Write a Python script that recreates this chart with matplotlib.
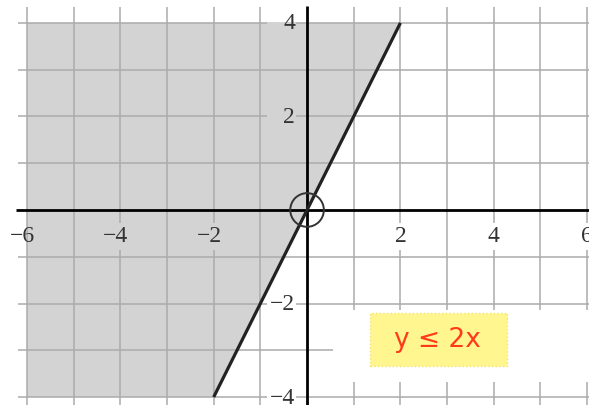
import matplotlib
matplotlib.use("Agg")
import matplotlib.pyplot as plt
from matplotlib.patches import Polygon, Rectangle, Circle

# ---- data ----
x_ticks = [-6, -4, -2, 2, 4, 6]
y_ticks = [-4, -2, 2, 4]
grid_x = [-6, -5, -4, -3, -2, -1, 0, 1, 2, 3, 4, 5, 6]
grid_y = [-4, -3, -2, -1, 0, 1, 2, 3, 4]
line_x = [-2, 2]
line_y = [-4, 4]
shade_x = [-6, 2, -2, -6]
shade_y = [4, 4, -4, -4]
label_text = "y \u2264 2x"

SHADE = "#d3d3d3"
GRID = "#ababab"

fig = plt.figure(figsize=(5.89, 4.05), dpi=100)
ax = fig.add_axes([0, 0, 1, 1])
xmin, xmax = -6.578, 6.04
ymin, ymax = -4.17, 4.49
ax.set_xlim(xmin, xmax)
ax.set_ylim(ymin, ymax)
ax.axis("off")

# shaded region
ax.add_patch(Polygon(list(zip(shade_x, shade_y)), closed=True,
                     facecolor=SHADE, edgecolor="none", zorder=1))

# grid
for gx in grid_x:
    if gx == 0:
        continue
    ax.plot([gx, gx], [ymin, 4.34], color=GRID, lw=1.1, zorder=2,
            solid_capstyle="butt")
for gy in grid_y:
    if gy == 0:
        continue
    ax.plot([-6.2, xmax], [gy, gy], color=GRID, lw=1.1, zorder=2,
            solid_capstyle="butt")

# white patch behind the label area
ax.add_patch(Rectangle((0.56, -3.68), xmax - 0.56, 3.68 - 2.14,
                       facecolor="white", edgecolor="none", zorder=2.5))

def in_shade(px, py):
    # left of line y = 2x within the strip
    return px < py / 2.0

# x tick labels
for v in x_ticks:
    xp = v - 0.1 if v < 0 else v
    s = ("\u2212%d" % -v) if v < 0 else "%d" % v
    kw = {}
    if v > -6:
        fc = SHADE if in_shade(xp, -0.5) else "white"
        kw["bbox"] = dict(boxstyle="square,pad=0.12", fc=fc, ec="none")
    ax.text(xp, -0.685, s, ha="center", va="baseline", fontsize=17,
            family="Liberation Serif", color="#333333", zorder=3.5, **kw)

# y tick labels
for v in y_ticks:
    fc = SHADE if in_shade(-0.5, v) else "white"
    top = min(v + 0.22, 4.02)
    ax.add_patch(Rectangle((-0.86, v - 0.22), 0.62, top - (v - 0.22),
                           facecolor=fc, edgecolor="none", zorder=3))
    s = ("\u2212%d" % -v) if v < 0 else "%d" % v
    ax.text(-0.26, v - 0.14, s, ha="right", va="baseline", fontsize=17,
            family="Liberation Serif", color="#333333", zorder=3.5)

# axes
ax.plot([-6.23, xmax], [0, 0], color="black", lw=2.0, zorder=4,
        solid_capstyle="butt")
ax.plot([0, 0], [ymin, 4.36], color="black", lw=2.0, zorder=4,
        solid_capstyle="butt")

# boundary line
ax.plot(line_x, line_y, color="#222222", lw=2.3, zorder=5,
        solid_capstyle="butt")

# circle at origin
ax.add_patch(Circle((0, 0), 0.36, facecolor="none", edgecolor="#333333",
                    lw=1.4, zorder=6))

# inequality label box
ax.add_patch(Rectangle((1.35, -3.34), 4.28 - 1.35, 3.34 - 2.2,
                       facecolor="#fff68f", edgecolor="#f2e46a",
                       lw=1.0, linestyle=":", zorder=6))
ax.text(2.8, -2.79, label_text, ha="center", va="center", fontsize=19,
        family=["DejaVu Sans"], color="#ff3a1a", zorder=7)

fig.savefig("out.png", dpi=100)
